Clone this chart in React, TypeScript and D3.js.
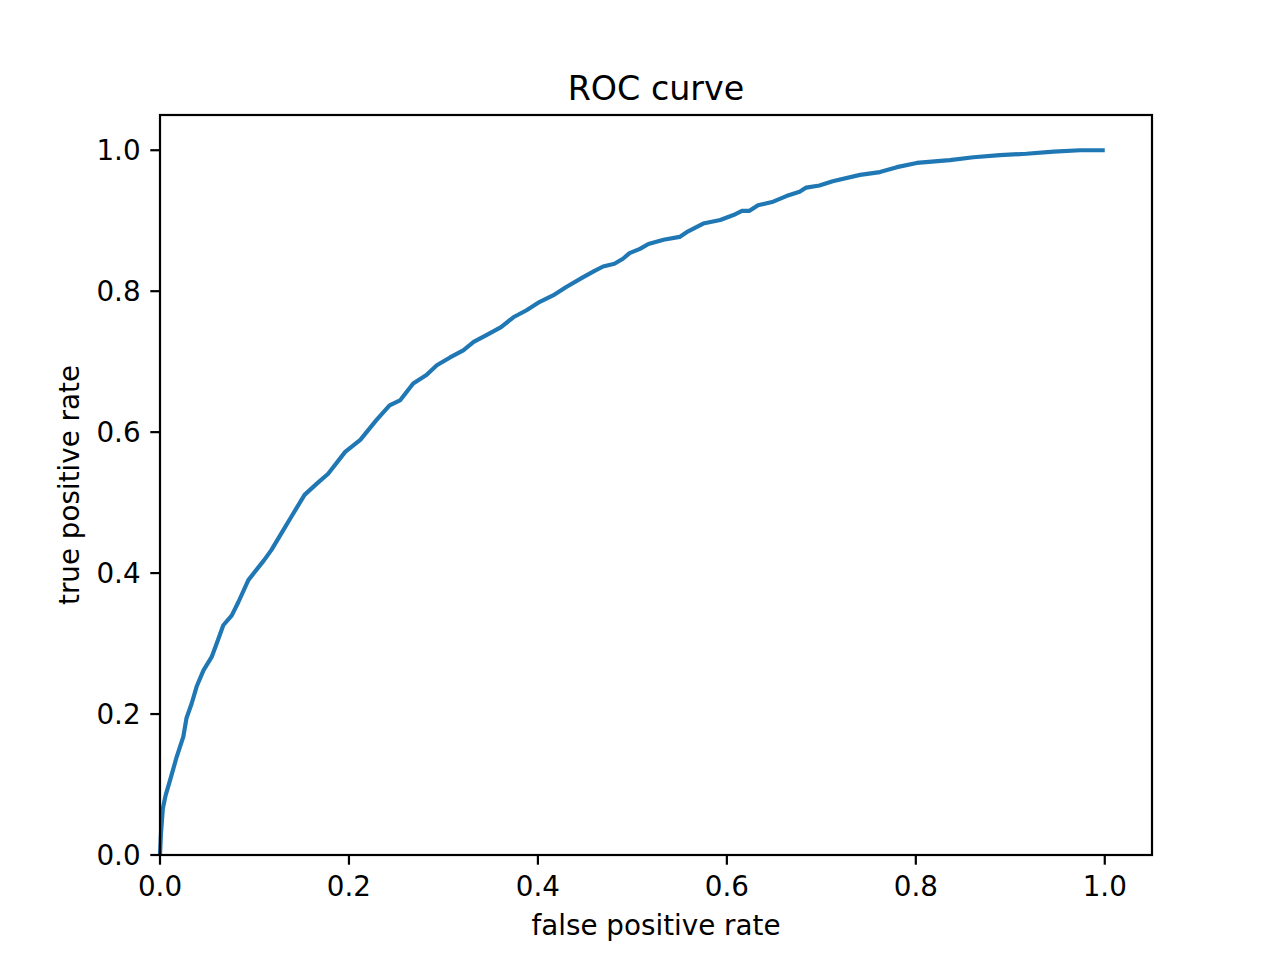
import React from "react";
import * as d3 from "d3";

const fprValues: number[] = [
  0, 0.001, 0.003, 0.006, 0.0106, 0.0176, 0.0247, 0.028, 0.0335, 0.0388, 0.046,
  0.0547, 0.06, 0.067, 0.076, 0.083, 0.0935, 0.11, 0.118, 0.1305, 0.139, 0.153,
  0.166, 0.178, 0.196, 0.212, 0.229, 0.243, 0.254, 0.268, 0.282, 0.293, 0.307,
  0.321, 0.332, 0.346, 0.361, 0.374, 0.388, 0.402, 0.416, 0.43, 0.448, 0.459,
  0.469, 0.481, 0.49, 0.497, 0.508, 0.517, 0.533, 0.55, 0.559, 0.575, 0.593,
  0.607, 0.616, 0.624, 0.633, 0.649, 0.663, 0.677, 0.684, 0.698, 0.712, 0.741,
  0.762, 0.78, 0.801, 0.836, 0.861, 0.889, 0.917, 0.946, 0.974, 1.0,
];
const tprValues: number[] = [
  0, 0.03, 0.066, 0.085, 0.106, 0.139, 0.168, 0.194, 0.215, 0.239, 0.262,
  0.281, 0.3, 0.326, 0.34, 0.359, 0.39, 0.418, 0.433, 0.461, 0.48, 0.511,
  0.527, 0.541, 0.572, 0.589, 0.617, 0.638, 0.645, 0.669, 0.681, 0.695, 0.706,
  0.716, 0.728, 0.738, 0.749, 0.763, 0.773, 0.785, 0.794, 0.806, 0.82, 0.828,
  0.835, 0.839, 0.846, 0.854, 0.86, 0.867, 0.873, 0.877, 0.885, 0.896, 0.901,
  0.908, 0.914, 0.914, 0.922, 0.927, 0.935, 0.941, 0.947, 0.95, 0.956, 0.965,
  0.969, 0.976, 0.982, 0.986, 0.99, 0.993, 0.995, 0.998, 1.0, 1.0,
];
const xTicks: number[] = [0, 0.2, 0.4, 0.6, 0.8, 1.0];
const yTicks: number[] = [0, 0.2, 0.4, 0.6, 0.8, 1.0];
const titleText = "ROC curve";
const xLabelText = "false positive rate";
const yLabelText = "true positive rate";

const W = 1280;
const H = 960;
const left = 160;
const right = 1152;
const top = 115;
const bottom = 855;
const fs = 27.78;
const font = "DejaVu Sans, sans-serif";

export default function App() {
  const x = d3.scaleLinear().domain([0, 1.05]).range([left, right]);
  const y = d3.scaleLinear().domain([0, 1.05]).range([bottom, top]);
  const pts: [number, number][] = fprValues.map((f, i) => [f, tprValues[i]]);
  const line = d3
    .line<[number, number]>()
    .x((d) => x(d[0]))
    .y((d) => y(d[1]));
  const tickLen = 9.7;
  const pad = 9.7;
  return (
    <div style={{ position: "absolute", left: 0, top: 0 }}>
      <svg width={W} height={H} style={{ display: "block", background: "#fff" }}>
        <rect x={0} y={0} width={W} height={H} fill="#fff" />
        <path
          d={line(pts) || ""}
          fill="none"
          stroke="#1f77b4"
          strokeWidth={4.17}
          strokeLinejoin="round"
          strokeLinecap="butt"
        />
        <rect
          x={left}
          y={top}
          width={right - left}
          height={bottom - top}
          fill="none"
          stroke="#000"
          strokeWidth={2.2}
        />
        {xTicks.map((t) => (
          <g key={"x" + t}>
            <line x1={x(t)} x2={x(t)} y1={bottom} y2={bottom + tickLen} stroke="#000" strokeWidth={2.2} />
            <text
              x={x(t)}
              y={bottom + tickLen + pad + 21.5}
              textAnchor="middle"
              fontFamily={font}
              fontSize={fs}
              fill="#000"
            >
              {t.toFixed(1)}
            </text>
          </g>
        ))}
        {yTicks.map((t) => (
          <g key={"y" + t}>
            <line x1={left - tickLen} x2={left} y1={y(t)} y2={y(t)} stroke="#000" strokeWidth={2.2} />
            <text
              x={left - tickLen - pad}
              y={y(t) + 10}
              textAnchor="end"
              fontFamily={font}
              fontSize={fs}
              fill="#000"
            >
              {t.toFixed(1)}
            </text>
          </g>
        ))}
        <text
          x={(left + right) / 2}
          y={99.5}
          textAnchor="middle"
          fontFamily={font}
          fontSize={33.33}
          fill="#000"
        >
          {titleText}
        </text>
        <text
          x={(left + right) / 2}
          y={935}
          textAnchor="middle"
          fontFamily={font}
          fontSize={fs}
          fill="#000"
        >
          {xLabelText}
        </text>
        <text
          transform={`translate(79,${(top + bottom) / 2}) rotate(-90)`}
          textAnchor="middle"
          fontFamily={font}
          fontSize={fs}
          fill="#000"
        >
          {yLabelText}
        </text>
      </svg>
    </div>
  );
}
